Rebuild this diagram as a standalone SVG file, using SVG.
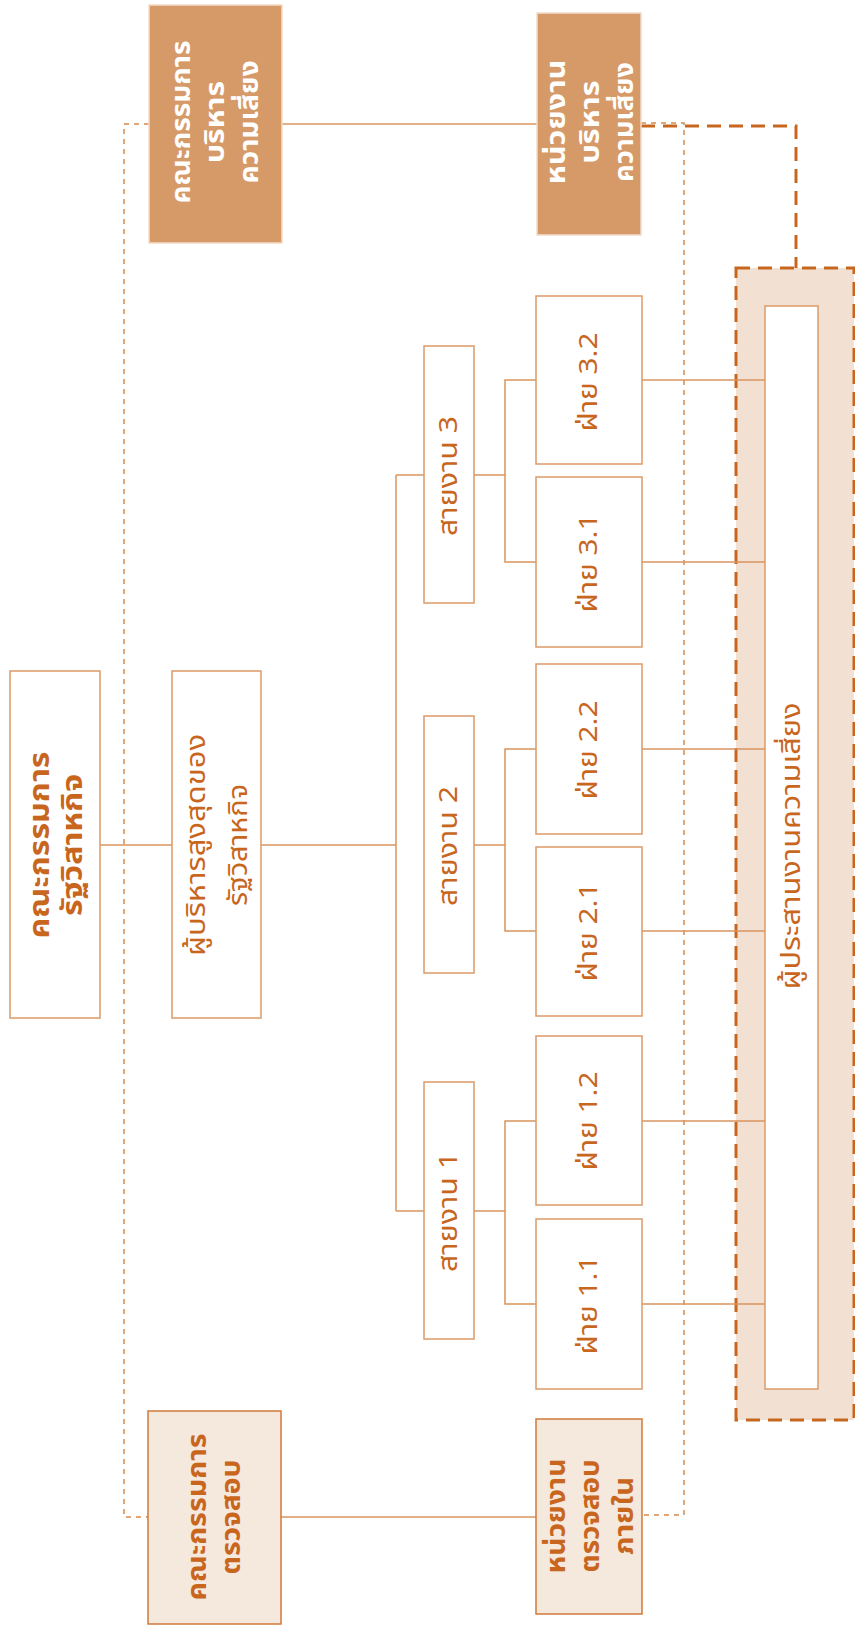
<svg xmlns="http://www.w3.org/2000/svg" width="855" height="1626" viewBox="0 0 855 1626">
<style>
.t{font-family:"Noto Sans Thai","Noto Sans","DejaVu Sans",sans-serif;fill:#c8661e;text-anchor:middle;dominant-baseline:central;font-size:26px}
.b{font-weight:bold}
.w{fill:#ffffff}
.box{fill:#ffffff;stroke:#dc9a68;stroke-width:1.5}
.dark{fill:#d69a68;stroke:#f3dcc8;stroke-width:1.5}
.light{fill:#f5e8dc;stroke:#d07a3a;stroke-width:1.5}
.zone{fill:#f2e0d2;stroke:#c8661e;stroke-width:3;stroke-dasharray:14 8}
.ln{fill:none;stroke:#d9955e;stroke-width:1.5}
.dot{fill:none;stroke:#d9894a;stroke-width:1.5;stroke-dasharray:5 5}
.thick{fill:none;stroke:#c8661e;stroke-width:3;stroke-dasharray:14 8}
</style>
<rect x="0" y="0" width="855" height="1626" fill="#ffffff"/>
<g id="risk-zone">
<rect class="zone" x="736" y="268" width="118" height="1152"/>
</g>
<g id="connectors">
<polyline class="dot" points="149,124 124,124 124,1517 148,1517"/>
<polyline class="dot" points="641,123 684,123 684,1515 642,1515"/>
<polyline class="thick" points="641,126 796,126 796,268"/>
<line class="ln" x1="282" y1="124" x2="537" y2="124"/>
<line class="ln" x1="281" y1="1517" x2="536" y2="1517"/>
<line class="ln" x1="100" y1="845" x2="396" y2="845"/>
<line class="ln" x1="396" y1="475" x2="396" y2="1211"/>
<line class="ln" x1="396" y1="475" x2="424" y2="475"/>
<line class="ln" x1="396" y1="1211" x2="424" y2="1211"/>
<line class="ln" x1="474" y1="475" x2="505" y2="475"/>
<line class="ln" x1="474" y1="845" x2="505" y2="845"/>
<line class="ln" x1="474" y1="1211" x2="505" y2="1211"/>
<polyline class="ln" points="536,380 505,380 505,562 536,562"/>
<polyline class="ln" points="536,749 505,749 505,931 536,931"/>
<polyline class="ln" points="536,1121 505,1121 505,1304 536,1304"/>
<line class="ln" x1="642" y1="380" x2="765" y2="380"/>
<line class="ln" x1="642" y1="562" x2="765" y2="562"/>
<line class="ln" x1="642" y1="749" x2="765" y2="749"/>
<line class="ln" x1="642" y1="931" x2="765" y2="931"/>
<line class="ln" x1="642" y1="1121" x2="765" y2="1121"/>
<line class="ln" x1="642" y1="1304" x2="765" y2="1304"/>
</g>
<g id="board-risk">
<rect class="dark" x="149" y="5" width="133" height="238"/>
<text class="t b w" transform="translate(216,122) rotate(-90)"><tspan x="0" y="-34" textLength="163" lengthAdjust="spacingAndGlyphs">คณะกรรมการ</tspan><tspan x="0" y="0" textLength="82" lengthAdjust="spacingAndGlyphs">บริหาร</tspan><tspan x="0" y="34" textLength="123" lengthAdjust="spacingAndGlyphs">ความเสี่ยง</tspan></text>
</g>
<g id="unit-risk">
<rect class="dark" x="537" y="13" width="104" height="222"/>
<text class="t b w" transform="translate(591,122) rotate(-90)"><tspan x="0" y="-34" textLength="125" lengthAdjust="spacingAndGlyphs">หน่วยงาน</tspan><tspan x="0" y="0" textLength="83" lengthAdjust="spacingAndGlyphs">บริหาร</tspan><tspan x="0" y="34" textLength="120" lengthAdjust="spacingAndGlyphs">ความเสี่ยง</tspan></text>
</g>
<g id="board-soe">
<rect class="box" x="10" y="671" width="90" height="347"/>
<text class="t b" style="font-size:28px" transform="translate(57,845) rotate(-90)"><tspan x="0" y="-17" textLength="187" lengthAdjust="spacingAndGlyphs">คณะกรรมการ</tspan><tspan x="0" y="16" textLength="142" lengthAdjust="spacingAndGlyphs">รัฐวิสาหกิจ</tspan></text>
</g>
<g id="ceo">
<rect class="box" x="172" y="671" width="89" height="347"/>
<text class="t" transform="translate(217,845) rotate(-90)"><tspan x="0" y="-20" textLength="222" lengthAdjust="spacingAndGlyphs">ผู้บริหารสูงสุดของ</tspan><tspan x="0" y="22" textLength="122" lengthAdjust="spacingAndGlyphs">รัฐวิสาหกิจ</tspan></text>
</g>
<g id="line3">
<rect class="box" x="424" y="346" width="50" height="257"/>
<text class="t" transform="translate(449,476) rotate(-90)" textLength="120" lengthAdjust="spacingAndGlyphs">สายงาน 3</text>
</g>
<g id="line2">
<rect class="box" x="424" y="716" width="50" height="257"/>
<text class="t" transform="translate(449,846) rotate(-90)" textLength="120" lengthAdjust="spacingAndGlyphs">สายงาน 2</text>
</g>
<g id="line1">
<rect class="box" x="424" y="1082" width="50" height="257"/>
<text class="t" transform="translate(449,1212) rotate(-90)" textLength="120" lengthAdjust="spacingAndGlyphs">สายงาน 1</text>
</g>
<g id="div32">
<rect class="box" x="536" y="296" width="106" height="168"/>
<text class="t" transform="translate(589,382) rotate(-90)" textLength="99" lengthAdjust="spacingAndGlyphs">ฝ่าย 3.2</text>
</g>
<g id="div31">
<rect class="box" x="536" y="477" width="106" height="170"/>
<text class="t" transform="translate(589,563) rotate(-90)" textLength="99" lengthAdjust="spacingAndGlyphs">ฝ่าย 3.1</text>
</g>
<g id="div22">
<rect class="box" x="536" y="664" width="106" height="170"/>
<text class="t" transform="translate(589,750) rotate(-90)" textLength="99" lengthAdjust="spacingAndGlyphs">ฝ่าย 2.2</text>
</g>
<g id="div21">
<rect class="box" x="536" y="847" width="106" height="169"/>
<text class="t" transform="translate(589,932) rotate(-90)" textLength="99" lengthAdjust="spacingAndGlyphs">ฝ่าย 2.1</text>
</g>
<g id="div12">
<rect class="box" x="536" y="1036" width="106" height="169"/>
<text class="t" transform="translate(589,1121) rotate(-90)" textLength="99" lengthAdjust="spacingAndGlyphs">ฝ่าย 1.2</text>
</g>
<g id="div11">
<rect class="box" x="536" y="1219" width="106" height="170"/>
<text class="t" transform="translate(589,1305) rotate(-90)" textLength="99" lengthAdjust="spacingAndGlyphs">ฝ่าย 1.1</text>
</g>
<g id="risk-coordinator">
<rect class="box" x="765" y="306" width="53" height="1083"/>
<text class="t" transform="translate(792,846) rotate(-90)" textLength="287" lengthAdjust="spacingAndGlyphs">ผู้ประสานงานความเสี่ยง</text>
</g>
<g id="audit-committee">
<rect class="light" x="148" y="1411" width="133" height="213"/>
<text class="t b" transform="translate(215,1517) rotate(-90)"><tspan x="0" y="-17" textLength="167" lengthAdjust="spacingAndGlyphs">คณะกรรมการ</tspan><tspan x="0" y="17" textLength="115" lengthAdjust="spacingAndGlyphs">ตรวจสอบ</tspan></text>
</g>
<g id="internal-audit">
<rect class="light" x="536" y="1419" width="106" height="195"/>
<text class="t b" transform="translate(591,1516) rotate(-90)"><tspan x="0" y="-34" textLength="115" lengthAdjust="spacingAndGlyphs">หน่วยงาน</tspan><tspan x="0" y="0" textLength="113" lengthAdjust="spacingAndGlyphs">ตรวจสอบ</tspan><tspan x="0" y="34" textLength="78" lengthAdjust="spacingAndGlyphs">ภายใน</tspan></text>
</g>
</svg>
